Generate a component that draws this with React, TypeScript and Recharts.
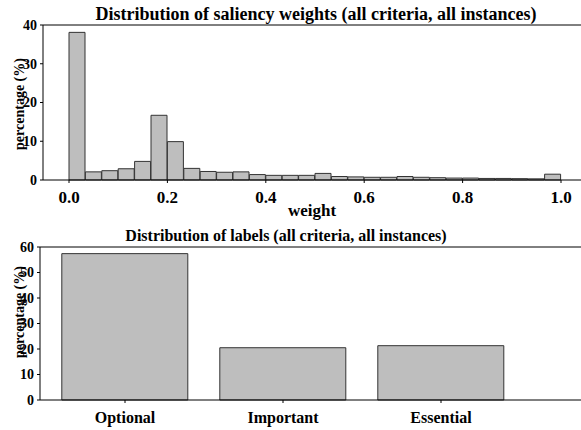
import { BarChart, Bar, XAxis, YAxis, ReferenceLine, Label } from "recharts";

// Share of saliency weights per bin (30 equal bins over [0, 1]), in %
const weightShare = [
  38.1, 2.1, 2.4, 2.9, 4.8, 16.7, 9.9, 3.0, 2.2, 2.0,
  2.1, 1.4, 1.2, 1.2, 1.2, 1.7, 0.9, 0.8, 0.7, 0.7,
  0.9, 0.7, 0.6, 0.5, 0.5, 0.4, 0.4, 0.35, 0.3, 1.5,
];
const binWidth = 1 / weightShare.length;
const weightTicks = [0, 0.2, 0.4, 0.6, 0.8, 1.0];
const weightPctTicks = [0, 10, 20, 30, 40];

const labelNames = ["Optional", "Important", "Essential"];
const labelShare = [57.4, 20.5, 21.3];
const labelPctTicks = [0, 10, 20, 30, 40, 50, 60];

const FONT = "Liberation Serif, DejaVu Serif, serif";
const FILL = "#bebebe";
const EDGE = "#333333";

// bars sit at the centre of each bin on a numeric weight axis
const weightData = weightShare.map((pct, i) => ({
  weight: (i + 0.5) * binWidth,
  pct,
}));
const labelData = labelNames.map((name, i) => ({ name, pct: labelShare[i] }));

const tickStyle = { fill: "#000", fontFamily: FONT, fontWeight: "bold", fontSize: 14 };

function PctLabel({ cx, cy }: any) {
  return (
    <text
      x={cx}
      y={cy}
      transform={`rotate(-90 ${cx} ${cy})`}
      textAnchor="middle"
      dominantBaseline="central"
      fontFamily={FONT}
      fontWeight="bold"
      fontSize={14}
      fill="#000"
    >
      percentage (%)
    </text>
  );
}

export default function App() {
  return (
    <div
      style={{
        position: "absolute",
        left: 0,
        top: 0,
        width: 581,
        height: 430,
        background: "#fff",
      }}
    >
      <div style={{ position: "absolute", left: 0, top: 0 }}>
        <BarChart
          width={581}
          height={220}
          data={weightData}
          margin={{ top: 25, right: 0, left: 0, bottom: 0 }}
          barCategoryGap={0}
        >
          <XAxis
            dataKey="weight"
            type="number"
            domain={[0, 1]}
            ticks={weightTicks}
            tickFormatter={(v: number) => v.toFixed(1)}
            padding={{ left: 26, right: 20 }}
            height={40}
            stroke="#000"
            tickSize={3}
            tickMargin={8}
            tick={{ ...tickStyle, fontSize: 17 }}
          >
            <Label
              value="weight"
              position="insideBottom"
              offset={4}
              style={{ fontFamily: FONT, fontWeight: "bold", fontSize: 17, fill: "#000" }}
            />
          </XAxis>
          <YAxis
            width={43}
            domain={[0, 40]}
            ticks={weightPctTicks}
            stroke="#000"
            tickSize={3}
            tickMargin={3}
            tick={tickStyle}
            label={<PctLabel cx={19} cy={104} />}
          />
          <ReferenceLine y={40} stroke="#000" />
          <Bar
            dataKey="pct"
            fill={FILL}
            stroke={EDGE}
            strokeWidth={1}
            isAnimationActive={false}
          />
        </BarChart>
      </div>

      <div style={{ position: "absolute", left: 0, top: 220 }}>
        <BarChart
          width={581}
          height={210}
          data={labelData}
          margin={{ top: 27, right: 0, left: 0, bottom: 0 }}
          barCategoryGap="10%"
        >
          <XAxis
            dataKey="name"
            padding={{ left: 6, right: 61 }}
            height={30}
            stroke="#000"
            tickSize={3}
            tickMargin={9}
            tick={{ ...tickStyle, fontSize: 16 }}
          />
          <YAxis
            width={40}
            domain={[0, 60]}
            ticks={labelPctTicks}
            stroke="#000"
            tickSize={3}
            tickMargin={3}
            tick={tickStyle}
            label={<PctLabel cx={19} cy={92} />}
          />
          <ReferenceLine y={60} stroke="#000" />
          <Bar
            dataKey="pct"
            fill={FILL}
            stroke={EDGE}
            strokeWidth={1}
            isAnimationActive={false}
          />
        </BarChart>
      </div>

      <svg
        width={581}
        height={430}
        style={{ position: "absolute", left: 0, top: 0, pointerEvents: "none" }}
      >
        <text
          x={316}
          y={20}
          textAnchor="middle"
          fontFamily={FONT}
          fontWeight="bold"
          fontSize={18}
          fill="#000"
        >
          Distribution of saliency weights (all criteria, all instances)
        </text>
        <text
          x={286}
          y={241}
          textAnchor="middle"
          fontFamily={FONT}
          fontWeight="bold"
          fontSize={16}
          fill="#000"
        >
          Distribution of labels (all criteria, all instances)
        </text>
      </svg>
    </div>
  );
}
